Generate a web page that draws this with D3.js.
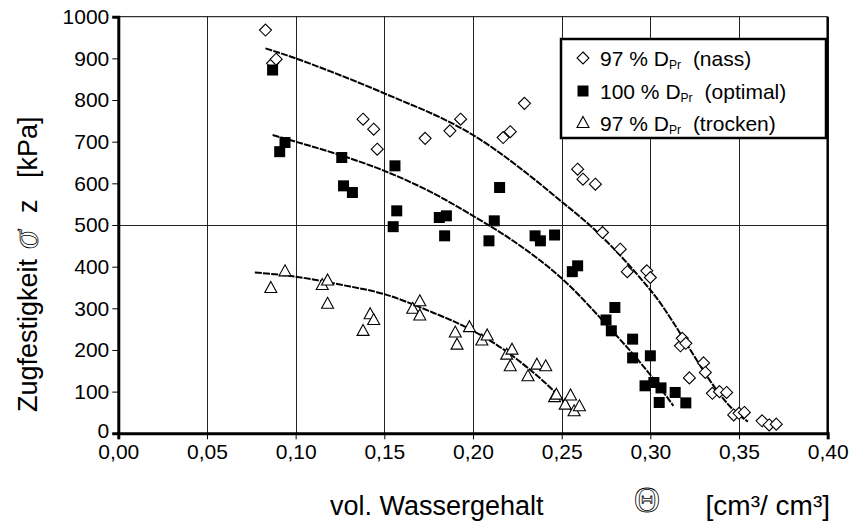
<!DOCTYPE html>
<html>
<head>
<meta charset="utf-8">
<script src="https://cdn.jsdelivr.net/npm/d3@7"></script>
<style>
  body { margin: 0; background: #fff; }
  svg { display: block; font-family: "Liberation Sans", Arial, sans-serif; }
</style>
</head>
<body>
<svg id="chart" width="852" height="529"></svg>
<script>
'use strict';
// measured points [theta, sigma_z]
const nass = [
  [0.083, 968], [0.087, 888], [0.089, 898], [0.138, 754], [0.144, 730], [0.146, 682],
  [0.173, 708], [0.187, 726], [0.193, 754], [0.217, 710], [0.221, 724], [0.229, 792],
  [0.259, 634], [0.262, 610], [0.269, 598], [0.273, 482], [0.283, 442], [0.287, 388],
  [0.298, 390], [0.300, 374], [0.317, 210], [0.318, 228], [0.320, 216], [0.322, 133],
  [0.330, 169], [0.331, 146], [0.335, 96], [0.339, 100], [0.343, 98], [0.347, 44],
  [0.350, 48], [0.353, 50], [0.363, 30], [0.367, 20], [0.371, 22]
];
const optimal = [
  [0.087, 872], [0.091, 676], [0.094, 698], [0.126, 662], [0.127, 594], [0.132, 578],
  [0.156, 642], [0.157, 534], [0.155, 496], [0.181, 518], [0.185, 522], [0.184, 474],
  [0.212, 510], [0.209, 462], [0.215, 590], [0.235, 474], [0.238, 462], [0.246, 476],
  [0.259, 402], [0.256, 388], [0.280, 302], [0.275, 272], [0.278, 246], [0.290, 226],
  [0.290, 181], [0.300, 186], [0.297, 114], [0.302, 122], [0.306, 109], [0.305, 74],
  [0.314, 98], [0.320, 73]
];
const trocken = [
  [0.086, 350], [0.094, 390], [0.115, 357], [0.118, 368], [0.118, 312], [0.138, 247],
  [0.142, 287], [0.144, 273], [0.166, 300], [0.170, 318], [0.170, 284], [0.190, 243],
  [0.191, 214], [0.198, 256], [0.205, 224], [0.208, 236], [0.219, 190], [0.222, 202],
  [0.221, 162], [0.231, 138], [0.236, 166], [0.241, 162], [0.246, 88], [0.247, 94],
  [0.252, 70], [0.255, 92], [0.257, 54], [0.260, 66]
];
// trend lines
const trendNass = [[0.083, 924], [0.10, 900], [0.12, 868], [0.15, 816], [0.20, 716],
  [0.25, 556], [0.27, 483], [0.30, 344], [0.35, 44], [0.355, 28]];
const trendOptimal = [[0.087, 716], [0.10, 700], [0.125, 668], [0.15, 630], [0.175, 582],
  [0.20, 522], [0.225, 455], [0.25, 372], [0.275, 262], [0.30, 140], [0.313, 66]];
const trendTrocken = [[0.077, 386], [0.10, 376], [0.125, 357], [0.15, 334], [0.175, 294],
  [0.20, 246], [0.219, 196], [0.23, 160], [0.25, 82], [0.2565, 50]];

const xTicks = [0, 0.05, 0.10, 0.15, 0.20, 0.25, 0.30, 0.35, 0.40];
const yTicks = [0, 100, 200, 300, 400, 500, 600, 700, 800, 900, 1000];
const legendLabels = [
  { pre: "97 % D", sub: "Pr", post: "(nass)", shape: "diamond" },
  { pre: "100 % D", sub: "Pr", post: "(optimal)", shape: "square" },
  { pre: "97 % D", sub: "Pr", post: "(trocken)", shape: "triangle" }
];

const svg = d3.select("#chart");
const x = d3.scaleLinear().domain([0, 0.4]).range([118.3, 827.7]);
const y = d3.scaleLinear().domain([0, 1000]).range([433.3, 16.7]);
const de = d3.formatLocale({ decimal: ",", thousands: ".", grouping: [3], currency: ["", "€"] });

// grid
svg.append("g").selectAll("line")
  .data(xTicks.slice(1, -1))
  .enter().append("line")
  .attr("x1", d => Math.round(x(d)) + 0.5).attr("x2", d => Math.round(x(d)) + 0.5)
  .attr("y1", y(1000)).attr("y2", y(0))
  .attr("stroke", "#222").attr("stroke-width", 1);
svg.append("line")
  .attr("x1", x(0)).attr("x2", x(0.4))
  .attr("y1", Math.round(y(500)) + 0.5).attr("y2", Math.round(y(500)) + 0.5)
  .attr("stroke", "#222").attr("stroke-width", 1);
// frame top / right
svg.append("line").attr("x1", x(0)).attr("x2", x(0.4)).attr("y1", y(1000)).attr("y2", y(1000))
  .attr("stroke", "#000").attr("stroke-width", 1);
svg.append("line").attr("x1", x(0.4)).attr("x2", x(0.4)).attr("y1", y(1000)).attr("y2", y(0))
  .attr("stroke", "#000").attr("stroke-width", 2.5);

// axes
const yAxis = svg.append("g").attr("transform", "translate(" + x(0) + ",0)")
  .call(d3.axisLeft(y).tickValues(yTicks).tickSize(6).tickPadding(3).tickFormat(d3.format("d")));
const xAxis = svg.append("g").attr("transform", "translate(0," + y(0) + ")")
  .call(d3.axisBottom(x).tickValues(xTicks).tickSize(6).tickPadding(5).tickFormat(de.format(".2f")));
[yAxis, xAxis].forEach(function (ax) {
  ax.select(".domain").attr("stroke", "#000").attr("stroke-width", 3);
  ax.selectAll(".tick line").attr("stroke", "#000").attr("stroke-width", 1);
  ax.selectAll(".tick text").attr("fill", "#000").style("font-size", "21px")
    .style("font-family", "'Liberation Sans', Arial, sans-serif");
});
yAxis.selectAll(".tick text").filter(d => d === 0).attr("dy", "0.2em");

// trend lines
const line = d3.line().x(d => x(d[0])).y(d => y(d[1])).curve(d3.curveMonotoneX);
[trendNass, trendOptimal, trendTrocken].forEach(function (t) {
  svg.append("path").datum(t)
    .attr("d", line)
    .attr("fill", "none")
    .attr("stroke", "#000")
    .attr("stroke-width", 2)
    .attr("stroke-dasharray", "7,1.2");
});

// markers
function marker(sel, shape) {
  if (shape === "diamond") {
    sel.append("path").attr("d", "M0,-6L6,0L0,6L-6,0Z")
      .attr("fill", "#fff").attr("stroke", "#000").attr("stroke-width", 1.1);
  } else if (shape === "square") {
    sel.append("rect").attr("x", -5.5).attr("y", -5.5).attr("width", 11).attr("height", 11)
      .attr("fill", "#000");
  } else {
    sel.append("path").attr("d", "M0,-6L6,5L-6,5Z")
      .attr("fill", "#fff").attr("stroke", "#000").attr("stroke-width", 1.1);
  }
}
[[nass, "diamond"], [optimal, "square"], [trocken, "triangle"]].forEach(function (s) {
  svg.append("g").selectAll("g")
    .data(s[0])
    .enter().append("g")
    .attr("transform", d => "translate(" + x(d[0]) + "," + y(d[1]) + ")")
    .each(function () { marker(d3.select(this), s[1]); });
});

// legend
const legend = svg.append("g");
legend.append("rect").attr("x", 561).attr("y", 39).attr("width", 265).attr("height", 99)
  .attr("fill", "#fff").attr("stroke", "#000").attr("stroke-width", 2.5);
const rowY = [58, 91, 122.5];
legendLabels.forEach(function (l, i) {
  const g = legend.append("g").attr("transform", "translate(583," + rowY[i] + ")");
  marker(g, l.shape);
  const t = g.append("text").attr("x", 17).attr("y", 8).attr("fill", "#000")
    .style("font-size", "21px");
  t.append("tspan").text(l.pre);
  t.append("tspan").attr("dy", 3).style("font-size", "12px").text(l.sub);
  t.append("tspan").attr("dx", 12).attr("dy", -3).text(l.post);
});

// axis titles
const yTitle = svg.append("g").attr("transform", "translate(37,412) rotate(-90)")
  .style("font-size", "27px").attr("fill", "#000");
yTitle.append("text").attr("x", 0).text("Zugfestigkeit");
yTitle.append("text").attr("x", 163).attr("y", 1)
  .style("font-family", "'Liberation Serif', serif").style("font-style", "italic")
  .style("font-size", "38px").attr("fill", "#fff").attr("stroke", "#000").attr("stroke-width", 0.8)
  .text("σ");
yTitle.append("text").attr("x", 199).text("z");
yTitle.append("text").attr("x", 234).text("[kPa]");

svg.append("text").attr("x", 330).attr("y", 515).style("font-size", "27px").text("vol. Wassergehalt");
svg.append("text").attr("x", 647).attr("y", 512).attr("text-anchor", "middle")
  .style("font-family", "'Liberation Serif', serif").style("font-size", "36px")
  .attr("fill", "#fff").attr("stroke", "#000").attr("stroke-width", 0.8).text("Θ");
svg.append("text").attr("x", 830).attr("y", 515).attr("text-anchor", "end")
  .style("font-size", "28px").text("[cm³/ cm³]");
</script>
</body>
</html>
